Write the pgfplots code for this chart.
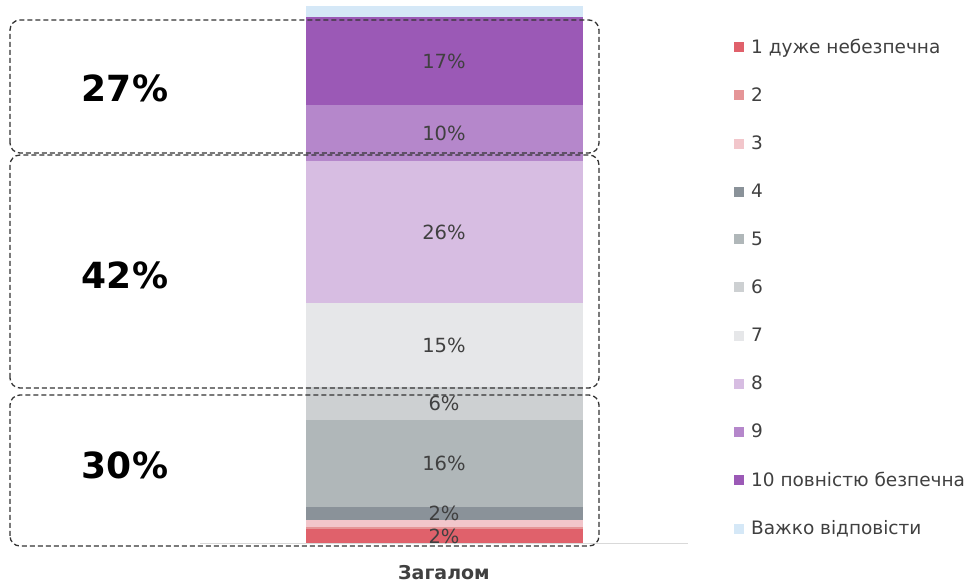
\documentclass[border=0pt]{standalone}
\usepackage{fontspec}
\setmainfont{DejaVu Sans}
\usepackage{pgfplots}
\pgfplotsset{compat=1.18}
\definecolor{c1}{HTML}{E0616B}
\definecolor{c2}{HTML}{E59597}
\definecolor{c3}{HTML}{F2C6CB}
\definecolor{c4}{HTML}{8A9299}
\definecolor{c5}{HTML}{B0B7B9}
\definecolor{c6}{HTML}{CDD0D2}
\definecolor{c7}{HTML}{E6E7E9}
\definecolor{c8}{HTML}{D7BDE2}
\definecolor{c9}{HTML}{B587CB}
\definecolor{c10}{HTML}{9B59B6}
\definecolor{c11}{HTML}{D5E8F7}
\definecolor{txt}{HTML}{404040}
\pgfplotsset{
  lab/.style={
    nodes near coords={\pgfplotspointmeta},
    point meta=explicit symbolic,
    every node near coord/.append style={anchor=center,
      font=\fontsize{19.5}{21}\selectfont, text=txt},
  },
}
\begin{document}
\begin{tikzpicture}
\useasboundingbox (0pt,0pt) rectangle (972pt,583pt);
\begin{axis}[
  at={(200pt,40pt)}, anchor=south west,
  scale only axis, width=488pt, height=536pt,
  xmin=-1, xmax=1, ymin=0, ymax=99.4,
  ybar stacked, bar width=277pt,
  axis y line=none, axis x line*=bottom,
  x axis line style={draw=black!15, -},
  xtick={0}, xticklabels={\textbf{Загалом}},
  major tick length=0pt,
  xticklabel style={font=\fontsize{19}{21}\selectfont, text=txt, yshift=-19pt},
  legend style={at={(1.088,0.948)}, anchor=north west, draw=none,
    font=\fontsize{18.5}{20}\selectfont, text=txt, row sep=28.9pt},
  legend cell align=left,
  legend image code/.code={\fill[#1, draw=none] (0pt,-5pt) rectangle (10pt,5pt); \path (15pt,0pt);},
  clip=false,
]
\addplot[fill=c1, draw=none, lab] coordinates {(0,2.6) [2\%]};
\addplot[fill=c2, draw=none] coordinates {(0,0.4)};
\addplot[fill=c3, draw=none] coordinates {(0,1.3)};
\addplot[fill=c4, draw=none, lab] coordinates {(0,2.4) [2\%]};
\addplot[fill=c5, draw=none, lab] coordinates {(0,16.2) [16\%]};
\addplot[fill=c6, draw=none, lab] coordinates {(0,6.0) [6\%]};
\addplot[fill=c7, draw=none, lab] coordinates {(0,15.6) [15\%]};
\addplot[fill=c8, draw=none, lab] coordinates {(0,26.3) [26\%]};
\addplot[fill=c9, draw=none, lab] coordinates {(0,10.4) [10\%]};
\addplot[fill=c10, draw=none, lab] coordinates {(0,16.4) [17\%]};
\addplot[fill=c11, draw=none] coordinates {(0,2.0)};
\legend{1 дуже небезпечна, 2, 3, 4, 5, 6, 7, 8, 9, 10 повністю безпечна, Важко відповісти}
\end{axis}
\begin{scope}[draw=black!80, line width=1.3pt, dash pattern=on 5pt off 3pt, rounded corners=10pt]
\draw (10pt,430pt) rectangle (599pt,563pt);
\draw (10pt,195pt) rectangle (599pt,428pt);
\draw (10pt,37pt) rectangle (599pt,188pt);
\end{scope}
\begin{scope}[font=\bfseries\fontsize{36}{40}\selectfont]
\node at (125pt,495pt) {27\%};
\node at (125pt,308pt) {42\%};
\node at (125pt,118pt) {30\%};
\end{scope}
\end{tikzpicture}
\end{document}
